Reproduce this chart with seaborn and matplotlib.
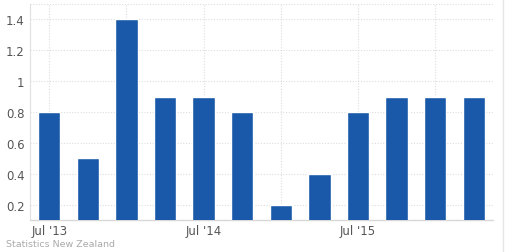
import matplotlib
matplotlib.use("Agg")
import matplotlib.pyplot as plt
import seaborn as sns
import pandas as pd
from matplotlib.lines import Line2D

quarters = ["Jul '13", "Oct '13", "Jan '14", "Apr '14", "Jul '14", "Oct '14",
            "Jan '15", "Apr '15", "Jul '15", "Oct '15", "Jan '16", "Apr '16"]
values = [0.8, 0.5, 1.4, 0.9, 0.9, 0.8, 0.2, 0.4, 0.8, 0.9, 0.9, 0.9]
ytick_vals = [0.2, 0.4, 0.6, 0.8, 1.0, 1.2, 1.4]
ytick_labels = ["0.2", "0.4", "0.6", "0.8", "1", "1.2", "1.4"]
xtick_labels = {"Jul '13": "Jul '13", "Jul '14": "Jul '14", "Jul '15": "Jul '15"}
source = "Statistics New Zealand"

df = pd.DataFrame({"quarter": quarters, "value": values})

sns.set_theme(style="white")
plt.rcParams['font.family'] = ['DejaVu Sans']

fig = plt.figure(figsize=(5.07, 2.53), dpi=100)
ax = fig.add_axes([30/507, 32/253, 463/507, 216/253])

sns.barplot(data=df, x="quarter", y="value", color="#1a59a9", width=0.58,
            saturation=1, ax=ax, zorder=3)

ax.set_ylim(0.1, 1.5)
ax.set_xlim(-0.5, len(quarters) - 0.5)
ax.set_yticks(ytick_vals)
ax.set_yticklabels(ytick_labels)
ax.set_xlabel("")
ax.set_ylabel("")

# vertical grid every 2 quarters
for i in range(0, len(quarters), 2):
    ax.axvline(i, color="#dddddd", linestyle=(0, (1, 1.5)), linewidth=0.8, zorder=1)
for v in ytick_vals + [1.5]:
    ax.axhline(v, color="#dddddd", linestyle=(0, (1, 1.5)), linewidth=0.8, zorder=1)

xt = [i for i, q in enumerate(quarters) if q in xtick_labels]
ax.set_xticks(xt)
ax.set_xticklabels([xtick_labels[quarters[i]] for i in xt])

for s in ["top", "right"]:
    ax.spines[s].set_visible(False)
ax.spines["left"].set_color("#e0e0e0")
ax.spines["bottom"].set_color("#d8d8d8")
ax.spines["left"].set_linewidth(0.8)
ax.spines["bottom"].set_linewidth(1.0)

ax.tick_params(axis="both", length=0, labelsize=8.5, labelcolor="#555555")
ax.tick_params(axis="x", pad=3)
ax.tick_params(axis="y", pad=4)

fig.add_artist(Line2D([503/507, 503/507], [0, 1], color="#e6e6e6", linewidth=1))
fig.text(6/507, 1 - 245/253, source, fontsize=6.8, color="#aaaaaa", va="center", ha="left")

fig.savefig("out.png", dpi=100)
